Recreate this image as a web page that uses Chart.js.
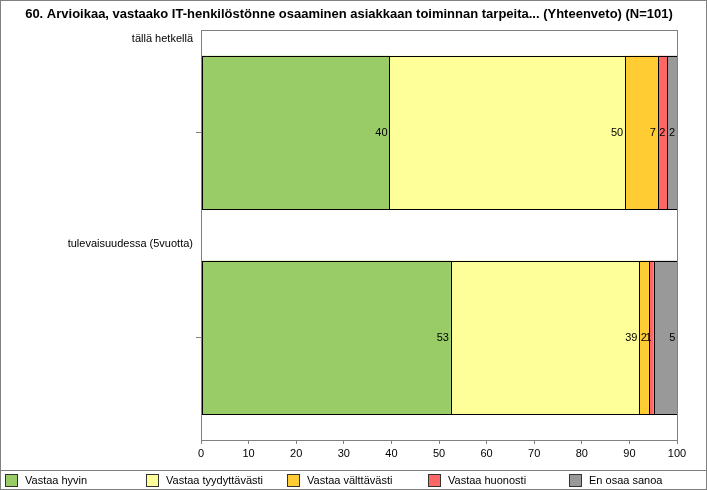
<!DOCTYPE html>
<html>
<head>
<meta charset="utf-8">
<script src="https://cdn.jsdelivr.net/npm/chart.js@4"></script>
<style>
  html, body { margin: 0; padding: 0; background: #fff; }
  #wrap { width: 707px; height: 490px; }
</style>
</head>
<body>
<div id="wrap"><canvas id="chart" width="707" height="490"></canvas></div>
<script>
// Kysymys 60 - yhteenveto (N=101)
const title = '60. Arvioikaa, vastaako IT-henkilöstönne osaaminen asiakkaan toiminnan tarpeita... (Yhteenveto) (N=101)';
const categories = ['tällä hetkellä', 'tulevaisuudessa (5vuotta)'];
const seriesNames = ['Vastaa hyvin', 'Vastaa tyydyttävästi', 'Vastaa välttävästi', 'Vastaa huonosti', 'En osaa sanoa'];
// prosenttiosuudet per rivi
const hyvin = [39.6, 52.5];
const tyydyttavasti = [49.5, 39.6];
const valttavasti = [6.9, 2.0];
const huonosti = [2.0, 1.0];
const eos = [2.0, 5.0];
// näytetyt arvot kuvasta
const hyvinLbl = [40, 53];
const tyydLbl = [50, 39];
const valtLbl = [7, 2];
const huonLbl = [2, 1];
const eosLbl = [2, 5];
const xTicks = [0, 10, 20, 30, 40, 50, 60, 70, 80, 90, 100];

const colors = ['#99CC66', '#FFFF99', '#FFCC33', '#FF6666', '#999999'];
const values = [hyvin, tyydyttavasti, valttavasti, huonosti, eos];
const labels = [hyvinLbl, tyydLbl, valtLbl, huonLbl, eosLbl];

const FONT = 'Arial, "Liberation Sans", sans-serif';

const frame = {
    id: 'frame',
    afterDatasetsDraw(chart) {
        // mustat reunat palkeille
        const c = chart.ctx;
        c.save();
        c.strokeStyle = '#000';
        c.lineWidth = 1;
        chart.data.datasets.forEach((ds, di) => {
            chart.getDatasetMeta(di).data.forEach((bar) => {
                const l = Math.round(bar.base), r = Math.round(bar.x);
                const t = Math.round(bar.y - bar.height / 2), b = Math.round(bar.y + bar.height / 2);
                c.strokeRect(l + 0.5, t + 0.5, r - l, b - t);
            });
        });
        c.restore();
    },
    afterDraw(chart) {
        const c = chart.ctx;
        const a = chart.chartArea;
        c.save();
        // plot box
        c.strokeStyle = '#808080';
        c.lineWidth = 1;
        c.strokeRect(Math.round(a.left) + 0.5, Math.round(a.top) + 0.5, Math.round(a.right - a.left), Math.round(a.bottom - a.top));
        // title
        c.fillStyle = '#000';
        c.font = 'bold 13px ' + FONT;
        c.textAlign = 'center';
        c.textBaseline = 'middle';
        c.fillText(title, 349, 14);
        // category labels above bars
        c.font = '11px ' + FONT;
        c.textAlign = 'right';
        categories.forEach((cat, i) => {
            const band = (a.bottom - a.top) / categories.length;
            c.fillText(cat, a.left - 8, a.top + band * i + 9);
        });
        // value labels
        chart.data.datasets.forEach((ds, di) => {
            chart.getDatasetMeta(di).data.forEach((bar, i) => {
                c.fillText(String(labels[di][i]), bar.x - 2, bar.y);
            });
        });
        // legend
        c.strokeStyle = '#808080';
        c.beginPath();
        c.moveTo(0, 470.5);
        c.lineTo(707, 470.5);
        c.stroke();
        c.textAlign = 'left';
        seriesNames.forEach((name, i) => {
            const x = 5 + i * 141;
            c.fillStyle = colors[i];
            c.fillRect(x, 474, 13, 13);
            c.strokeStyle = '#333';
            c.strokeRect(x + 0.5, 474.5, 12, 12);
            c.fillStyle = '#000';
            c.fillText(name, x + 20, 481);
        });
        // outer border
        c.strokeStyle = '#808080';
        c.strokeRect(0.5, 0.5, 706, 489);
        c.restore();
    }
};

new Chart(document.getElementById('chart').getContext('2d'), {
    type: 'bar',
    data: {
        labels: categories,
        datasets: seriesNames.map((name, i) => ({
            label: name,
            data: values[i],
            backgroundColor: colors[i],
            borderWidth: 0,
            barPercentage: 0.75,
            categoryPercentage: 1,
        })),
    },
    options: {
        indexAxis: 'y',
        responsive: false,
        animation: false,
        layout: { padding: { top: 30, right: 30, left: 0, bottom: 0 } },
        plugins: {
            legend: { display: false },
            tooltip: { enabled: false },
            title: { display: false },
        },
        scales: {
            x: {
                stacked: true,
                min: 0,
                max: 100,
                afterBuildTicks: (s) => { s.ticks = xTicks.map(v => ({ value: v })); },
                afterFit: (s) => { s.height = 50; },
                grid: { drawOnChartArea: false, color: '#808080', tickLength: 4 },
                border: { display: false },
                ticks: { color: '#000', font: { family: FONT, size: 11 }, padding: 3 },
            },
            y: {
                stacked: true,
                afterFit: (s) => { s.width = 201; },
                grid: { drawOnChartArea: false, offset: false, color: '#808080', tickLength: 5 },
                border: { display: false },
                ticks: { display: false },
            },
        },
    },
    plugins: [frame],
});
</script>
</body>
</html>
